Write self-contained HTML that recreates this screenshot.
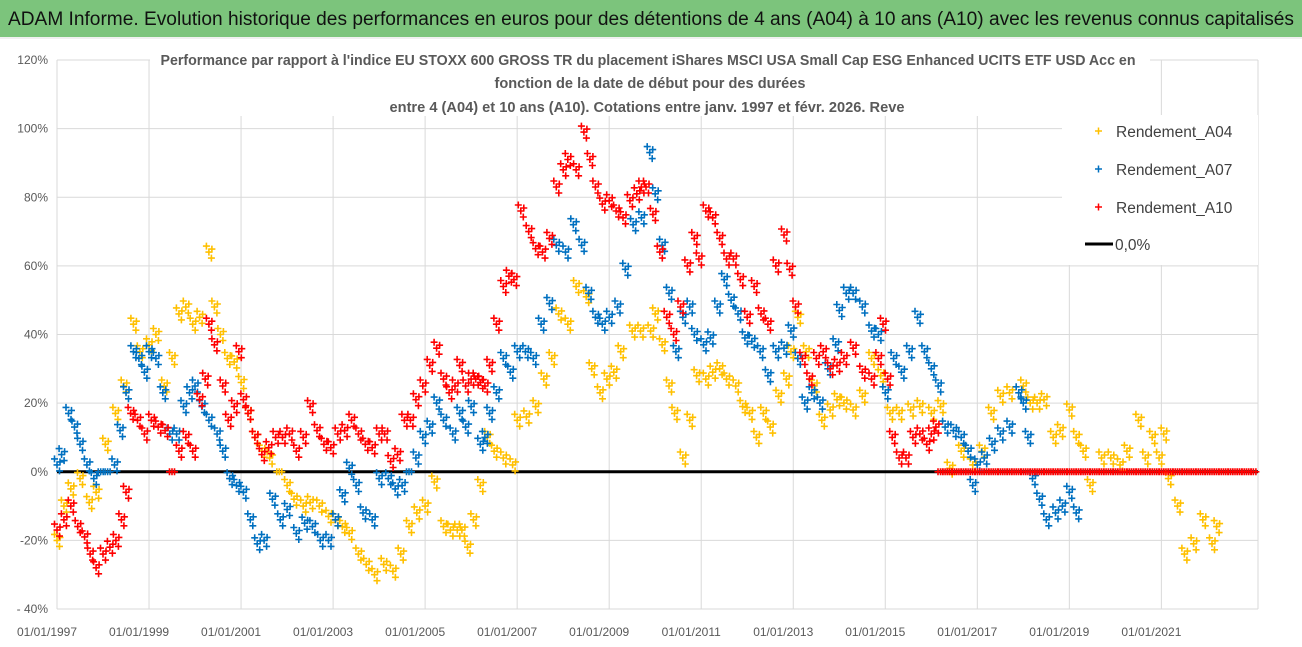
<!DOCTYPE html>
<html><head><meta charset="utf-8">
<style>
html,body{margin:0;padding:0;background:#fff;}
svg{display:block;font-family:"Liberation Sans",sans-serif;}
</style></head>
<body>
<svg id="chart" width="1302" height="647" viewBox="0 0 1302 647">
  <rect x="0" y="0" width="1302" height="647" fill="#fff"/>
  <rect x="0" y="0" width="1302" height="37" fill="#7cc47c"/>
  <text x="8" y="25" font-size="19" fill="#111" textLength="1286" lengthAdjust="spacingAndGlyphs">ADAM Informe. Evolution historique des performances en euros pour des détentions de 4 ans (A04) à 10 ans (A10) avec les revenus connus capitalisés</text>
  <line x1="0" y1="38" x2="1302" y2="38" stroke="#e0e0e0"/>
  <g id="grid"></g>
  <g id="yticks"></g>
  <g id="xticks"></g>
  <line id="zeroline" stroke="#000" stroke-width="3"/>
  <g id="marks"></g>
  <rect x="150" y="46" width="1000" height="70" fill="#fff"/>
  <g fill="#595959" font-size="14.5" font-weight="bold" text-anchor="middle">
    <text x="648" y="65" textLength="975" lengthAdjust="spacingAndGlyphs">Performance par rapport à l'indice EU STOXX 600 GROSS TR  du placement iShares MSCI USA Small Cap ESG Enhanced UCITS ETF USD Acc en</text>
    <text x="650" y="88" textLength="311" lengthAdjust="spacingAndGlyphs">fonction de la date de début pour des durées</text>
    <text x="647" y="112" textLength="515" lengthAdjust="spacingAndGlyphs">entre 4 (A04) et 10 ans (A10).  Cotations entre janv. 1997 et févr. 2026. Reve</text>
  </g>
  <g>
    <rect x="1062" y="115" width="196" height="150" fill="#fff"/>
    <g>
      <path d="M1095,131h7M1098.5,127.5v7" stroke="#ffc000" stroke-width="1.5"/>
      <text x="1116" y="137" font-size="15.5" fill="#404040">Rendement_A04</text>
    </g>
    <g>
      <path d="M1095,169h7M1098.5,165.5v7" stroke="#0070c0" stroke-width="1.5"/>
      <text x="1116" y="175" font-size="15.5" fill="#404040">Rendement_A07</text>
    </g>
    <g>
      <path d="M1095,207h7M1098.5,203.5v7" stroke="#ff0000" stroke-width="1.5"/>
      <text x="1116" y="213" font-size="15.5" fill="#404040">Rendement_A10</text>
    </g>
    <g>
      <line x1="1085" y1="244" x2="1113" y2="244" stroke="#000" stroke-width="3"/>
      <text x="1115" y="250" font-size="15.5" fill="#404040">0,0%</text>
    </g>
  </g>
</svg>
<script>
const yTicks = [120, 100, 80, 60, 40, 20, 0, -20, -40];
const yTickLabels = ["120%", "100%", "80%", "60%", "40%", "20%", "0%", "-20%", "- 40%"];
const xTicks = [1997, 1999, 2001, 2003, 2005, 2007, 2009, 2011, 2013, 2015, 2017, 2019, 2021];
const xTickLabels = ["01/01/1997","01/01/1999","01/01/2001","01/01/2003","01/01/2005","01/01/2007","01/01/2009","01/01/2011","01/01/2013","01/01/2015","01/01/2017","01/01/2019","01/01/2021"];

const a04Years = [1997.0,1997.15,1997.3,1997.5,1997.7,1997.85,1998.05,1998.27,1998.45,1998.66,1998.8,1999.0,1999.15,1999.33,1999.5,1999.65,1999.8,1999.95,2000.1,2000.3,2000.42,2000.55,2000.7,2000.85,2001.0,2001.15,2001.3,2001.45,2001.62,2001.83,2002.0,2002.15,2002.35,2002.5,2002.7,2002.9,2003.05,2003.2,2003.35,2003.55,2003.72,2003.9,2004.1,2004.3,2004.47,2004.65,2004.82,2005.0,2005.2,2005.4,2005.55,2005.7,2005.8,2005.92,2006.05,2006.2,2006.35,2006.5,2006.7,2006.9,2007.0,2007.2,2007.4,2007.58,2007.75,2007.9,2008.1,2008.28,2008.5,2008.62,2008.8,2008.95,2009.1,2009.25,2009.5,2009.68,2009.9,2010.0,2010.15,2010.3,2010.42,2010.6,2010.75,2010.9,2011.1,2011.25,2011.4,2011.55,2011.75,2011.9,2012.05,2012.2,2012.35,2012.5,2012.68,2012.85,2012.95,2013.1,2013.28,2013.45,2013.62,2013.8,2013.95,2014.1,2014.3,2014.5,2014.7,2014.9,2015.1,2015.3,2015.55,2015.75,2016.0,2016.2,2016.4,2016.65,2016.9,2017.1,2017.3,2017.5,2017.7,2018.0,2018.15,2018.3,2018.45,2018.65,2018.8,2019.0,2019.15,2019.3,2019.45,2019.7,2019.9,2020.1,2020.25,2020.5,2020.65,2020.8,2020.95,2021.05,2021.15,2021.35,2021.5,2021.7,2021.9,2022.1,2022.2];
const a04Vals = [-20,-10,-5,-2,-9,-6,8,17,25,43,35,37,40,25,33,46,48,43,45,64,48,40,33,32,26,17,10,6,4,0,-4,-8,-10,-9,-10,-13,-14,-16,-18,-24,-27,-30,-27,-29,-24,-16,-12,-10,-3,-16,-17,-17,-17,-22,-14,-4,10,6,4,2,15,16,19,27,33,46,43,54,51,30,23,27,29,35,41,41,41,46,37,25,17,4,15,28,27,29,30,27,25,19,17,10,17,13,22,27,35,45,35,25,15,18,21,20,18,22,33,28,17,17,18,19,17,19,1,6,2,6,17,22,23,25,20,20,21,10,12,18,10,6,-4,4,4,2,6,15,4,10,4,11,-2,-10,-24,-21,-14,-21,-16,-12];

const a07Years = [1997.0,1997.1,1997.25,1997.38,1997.5,1997.65,1997.8,1997.95,1998.1,1998.25,1998.37,1998.5,1998.66,1998.78,1998.9,1999.0,1999.15,1999.3,1999.45,1999.6,1999.75,1999.88,2000.0,2000.15,2000.3,2000.48,2000.6,2000.75,2000.9,2001.05,2001.2,2001.35,2001.5,2001.68,2001.85,2002.0,2002.2,2002.38,2002.55,2002.72,2002.9,2003.05,2003.2,2003.35,2003.5,2003.65,2003.85,2004.0,2004.2,2004.35,2004.5,2004.65,2004.8,2004.95,2005.1,2005.25,2005.4,2005.6,2005.75,2005.88,2006.0,2006.2,2006.3,2006.4,2006.55,2006.7,2006.85,2007.0,2007.18,2007.35,2007.52,2007.7,2007.85,2008.05,2008.22,2008.4,2008.55,2008.7,2008.85,2009.0,2009.18,2009.35,2009.52,2009.7,2009.88,2010.0,2010.15,2010.3,2010.45,2010.6,2010.75,2010.85,2011.05,2011.2,2011.35,2011.5,2011.65,2011.8,2011.95,2012.1,2012.28,2012.45,2012.62,2012.8,2012.95,2013.1,2013.25,2013.4,2013.58,2013.75,2013.92,2014.0,2014.15,2014.3,2014.5,2014.7,2014.85,2015.0,2015.18,2015.35,2015.52,2015.7,2015.85,2016.0,2016.15,2016.3,2016.48,2016.65,2016.8,2016.9,2017.0,2017.15,2017.32,2017.5,2017.7,2017.9,2018.0,2018.1,2018.2,2018.35,2018.5,2018.7,2018.85,2019.0,2019.15];
const a07Vals = [2,5,17,13,8,2,-2,0,0,2,12,23,35,33,29,35,33,23,11,11,19,23,25,19,15,11,6,-2,-4,-6,-14,-21,-20,-8,-14,-11,-18,-15,-16,-20,-20,-14,-7,1,-4,-12,-14,-2,-2,-5,-4,0,4,10,13,20,15,11,17,13,19,8,10,17,23,33,29,35,35,33,43,49,66,64,72,66,52,45,43,45,48,59,72,74,93,81,66,52,35,45,48,40,37,39,48,56,50,46,39,38,35,28,35,36,41,33,20,23,20,30,37,47,52,52,48,41,40,23,33,29,35,45,35,30,25,13,12,10,6,-4,2,4,8,11,13,23,20,10,-2,-8,-14,-12,-10,-6,-12];

const a10Years = [1997.0,1997.15,1997.3,1997.45,1997.6,1997.72,1997.85,1998.0,1998.15,1998.28,1998.4,1998.5,1998.6,1998.75,1998.9,1999.05,1999.2,1999.35,1999.5,1999.65,1999.8,1999.95,2000.1,2000.22,2000.3,2000.42,2000.6,2000.72,2000.85,2000.95,2001.05,2001.15,2001.3,2001.45,2001.6,2001.75,2001.9,2002.05,2002.2,2002.35,2002.5,2002.65,2002.8,2002.95,2003.1,2003.25,2003.4,2003.55,2003.7,2003.85,2004.0,2004.12,2004.25,2004.4,2004.55,2004.68,2004.8,2004.95,2005.1,2005.25,2005.4,2005.52,2005.65,2005.75,2005.88,2006.0,2006.1,2006.2,2006.3,2006.4,2006.55,2006.7,2006.82,2006.93,2007.08,2007.25,2007.4,2007.55,2007.7,2007.85,2008.0,2008.1,2008.28,2008.45,2008.58,2008.7,2008.85,2009.0,2009.15,2009.3,2009.45,2009.6,2009.7,2009.8,2009.95,2010.1,2010.25,2010.4,2010.55,2010.7,2010.85,2010.95,2011.1,2011.25,2011.4,2011.55,2011.7,2011.85,2012.0,2012.15,2012.3,2012.45,2012.62,2012.8,2012.92,2013.05,2013.2,2013.35,2013.5,2013.65,2013.8,2013.95,2014.1,2014.3,2014.5,2014.7,2014.85,2014.95,2015.05,2015.15,2015.3,2015.45,2015.6,2015.75,2015.9,2016.0,2016.1,
2016.2,2016.3,2016.4,2016.5,2016.6,2016.7,2016.8,2016.9,2017.0,2017.1,2017.2,2017.3,2017.4,2017.5,2017.6,2017.7,2017.8,2017.9,2018.0,2018.1,2018.2,2018.3,2018.4,2018.5,2018.6,2018.7,2018.8,2018.9,2019.0,2019.1,2019.2,2019.3,2019.4,2019.5,2019.6,2019.7,2019.8,2019.9,2020.0,2020.1,2020.2,2020.3,2020.4,2020.5,2020.6,2020.7,2020.8,2020.9,2021.0,2021.1,2021.2,2021.3,2021.4,2021.5,2021.6,2021.7,2021.8,2021.9,2022.0,2022.1,2022.2,2022.3,2022.4,2022.5,2022.6,2022.7,2022.8,2022.9,2023.0];
const a10Vals = [-17,-14,-10,-16,-19,-24,-28,-24,-22,-20,-14,-6,17,15,11,15,13,12,0,6,10,6,21,27,43,37,25,15,19,35,21,17,10,5,7,10,10,11,6,10,19,12,8,7,11,12,15,11,8,7,11,11,3,5,15,15,21,25,31,36,27,23,25,31,25,27,27,26,25,31,43,54,57,56,76,70,65,64,68,83,88,91,88,99,91,83,78,79,76,74,79,81,83,83,75,64,45,40,48,60,68,62,76,74,68,62,62,56,45,54,46,43,60,69,59,48,33,27,33,35,30,31,33,36,29,27,33,43,27,10,4,4,10,11,8,11,13,
0,0,0,0,0,0,0,0,0,0,0,0,0,0,0,0,0,0,0,0,0,0,0,0,0,0,0,0,0,0,0,0,0,0,0,0,0,0,0,0,0,0,0,0,0,0,0,0,0,0,0,0,0,0,0,0,0,0,0,0,0,0,0,0,0,0,0,0,0];

const PL = 57, PR = 1258, PT = 60, PB = 609;
const Y_MIN = -40, Y_MAX = 120, X_MIN = 1997, X_MAX = 2023.1;
function xScale(yr){ return PL + (yr - X_MIN) / (X_MAX - X_MIN) * (PR - PL); }
function yScale(v){ return PB - (v - Y_MIN) / (Y_MAX - Y_MIN) * (PB - PT); }

const NS = "http://www.w3.org/2000/svg";
const grid = document.getElementById("grid");
const yt = document.getElementById("yticks");
const xt = document.getElementById("xticks");

yTicks.forEach((t, i) => {
  const y = yScale(t);
  const l = document.createElementNS(NS, "line");
  l.setAttribute("x1", PL); l.setAttribute("x2", PR);
  l.setAttribute("y1", y); l.setAttribute("y2", y);
  l.setAttribute("stroke", "#d9d9d9"); l.setAttribute("stroke-width", "1");
  
  
  grid.appendChild(l);
  const tx = document.createElementNS(NS, "text");
  tx.setAttribute("x", 48); tx.setAttribute("y", y + 4);
  tx.setAttribute("text-anchor", "end");
  tx.setAttribute("font-size", "12"); tx.setAttribute("fill", "#595959");
  tx.textContent = yTickLabels[i];
  
  
  yt.appendChild(tx);
});

xTicks.forEach((t, i) => {
  const x = xScale(t);
  const l = document.createElementNS(NS, "line");
  l.setAttribute("x1", x); l.setAttribute("x2", x);
  l.setAttribute("y1", PT); l.setAttribute("y2", PB);
  l.setAttribute("stroke", "#d9d9d9"); l.setAttribute("stroke-width", "1");
  
  
  grid.appendChild(l);
  const tx = document.createElementNS(NS, "text");
  tx.setAttribute("x", x - 10); tx.setAttribute("y", 636);
  tx.setAttribute("text-anchor", "middle");
  tx.setAttribute("font-size", "12"); tx.setAttribute("fill", "#595959");
  tx.textContent = xTickLabels[i];
  
  
  xt.appendChild(tx);
});
const rb = document.createElementNS(NS, "line");
rb.setAttribute("x1", PR); rb.setAttribute("x2", PR); rb.setAttribute("y1", PT); rb.setAttribute("y2", PB);
rb.setAttribute("stroke", "#d9d9d9");


grid.appendChild(rb);

const zl = document.getElementById("zeroline");
zl.setAttribute("x1", PL); zl.setAttribute("x2", PR);
zl.setAttribute("y1", yScale(0)); zl.setAttribute("y2", yScale(0));

const marks = document.getElementById("marks");
function cross(x, y){
  return "M" + (x - 3.5).toFixed(1) + "," + y.toFixed(1) + "h7M" + x.toFixed(1) + "," + (y - 3.5).toFixed(1) + "v7";
}
function drawSeries(years, vals, color, name){
  const g = document.createElementNS(NS, "g");
  
  
  let d = "";
  for (let i = 0; i < years.length; i++){
    const x = xScale(years[i]), y = yScale(vals[i]);
    d += cross(x, y);
    if (vals[i] !== 0) {
      d += cross(x - 2.5, y - 6) + cross(x + 2.5, y + 6) + cross(x + 3, y - 3);
    } else {
      d += cross(x + 2.5, y) + cross(x - 2.5, y);
    }
  }
  const p = document.createElementNS(NS, "path");
  p.setAttribute("d", d);
  p.setAttribute("stroke", color);
  p.setAttribute("stroke-width", "1.6");
  p.setAttribute("fill", "none");
  
  
  g.appendChild(p);
  marks.appendChild(g);
}
drawSeries(a04Years, a04Vals, "#ffc000", "series-a04");
drawSeries(a07Years, a07Vals, "#0070c0", "series-a07");
drawSeries(a10Years, a10Vals, "#ff0000", "series-a10");
</script>
</body></html>
